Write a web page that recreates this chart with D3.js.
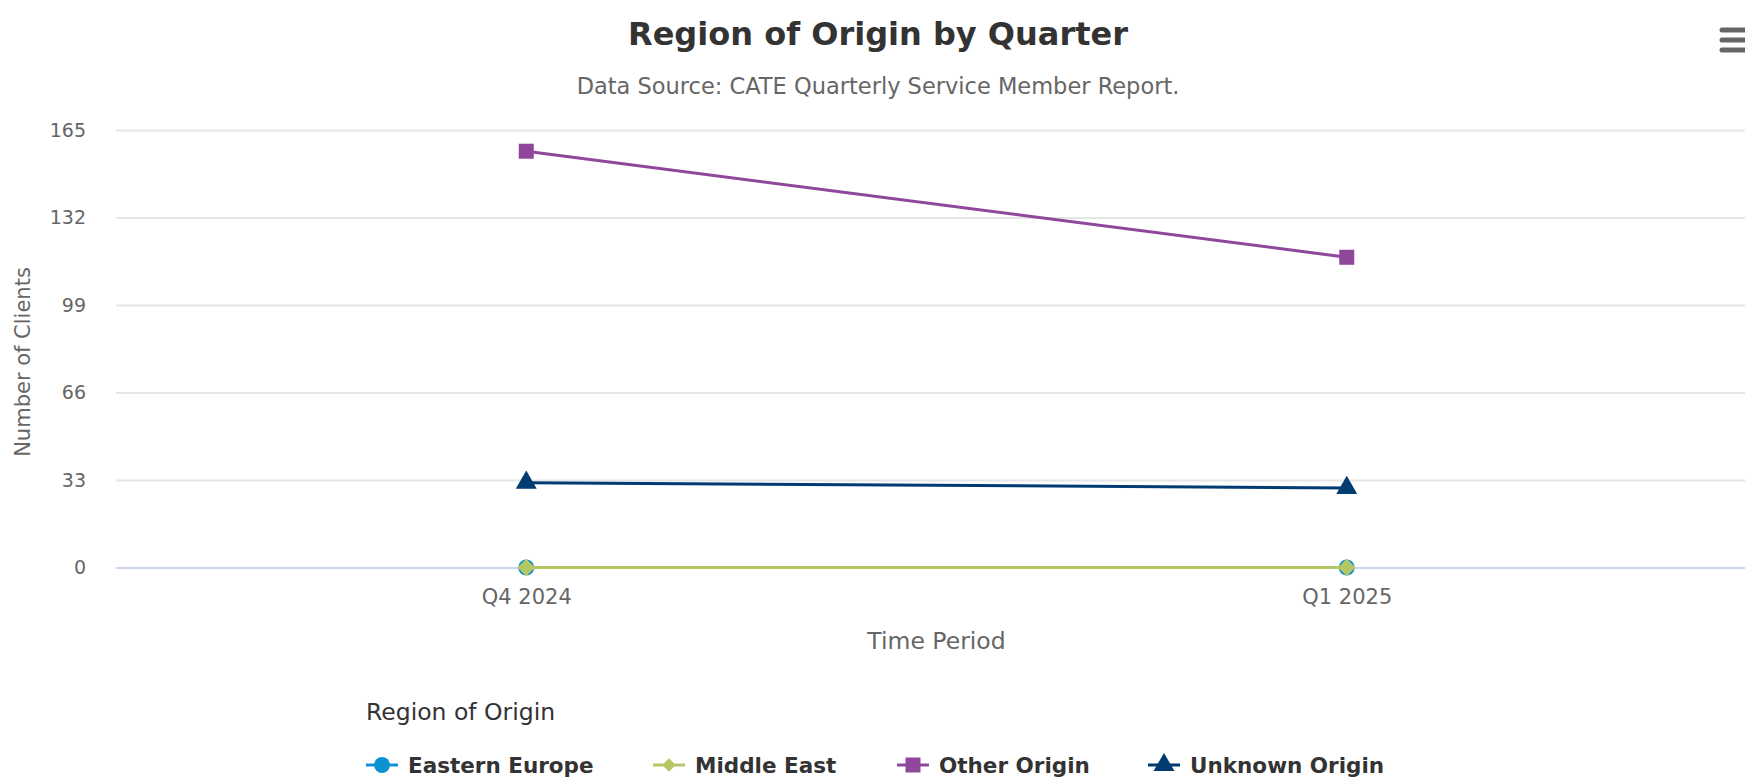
<!DOCTYPE html>
<html>
<head>
<meta charset="utf-8">
<script src="https://cdn.jsdelivr.net/npm/d3@7"></script>
<style>
  body { margin: 0; background: #fff; }
  svg { display: block; font-family: "DejaVu Sans", sans-serif; }
</style>
</head>
<body>
<svg id="chart" width="1745" height="779"></svg>
<script>
// data
const quarters = ["Q4 2024", "Q1 2025"];
const seriesNames = ["Eastern Europe", "Middle East", "Other Origin", "Unknown Origin"];
const easternEurope = [0, 0];
const middleEast = [0, 0];
const otherOrigin = [157, 117];
const unknownOrigin = [32, 30];
const yTicks = [0, 33, 66, 99, 132, 165];

const seriesColours = ["#0d92d1", "#b5c764", "#8e479a", "#003b71"];
// diamond = square turned 45 degrees
const seriesSymbols = [d3.symbolCircle, d3.symbolSquare, d3.symbolSquare, d3.symbolTriangle];
const seriesRotate = [0, 45, 0, 0];
const seriesSizes = [200, 150, 225, 190];
const legendSizes = [200, 90, 225, 190];

const series = [easternEurope, middleEast, otherOrigin, unknownOrigin].map((v, i) => ({
    name: seriesNames[i],
    values: v.map((y, j) => ({ q: quarters[j], y: y }))
}));

const svg = d3.select("#chart");

const MARGIN = { LEFT: 116, RIGHT: 1757, TOP: 130, BOTTOM: 567.5 };

//** SCALES *****************************************
let xScale = d3.scalePoint()
    .domain(quarters)
    .range([MARGIN.LEFT, MARGIN.RIGHT])
    .padding(0.5);

let yScale = d3.scaleLinear()
    .domain([0, 165])
    .range([MARGIN.BOTTOM, MARGIN.TOP]);

//** TITLES *****************************************
svg.append("text")
    .attr("x", 878)
    .attr("y", 45)
    .attr("text-anchor", "middle")
    .attr("font-size", "32px")
    .attr("font-weight", "bold")
    .attr("fill", "#333333")
    .text("Region of Origin by Quarter");

svg.append("text")
    .attr("x", 878)
    .attr("y", 94)
    .attr("text-anchor", "middle")
    .attr("font-size", "22.5px")
    .attr("fill", "#666666")
    .text("Data Source: CATE Quarterly Service Member Report.");

// menu icon
[30, 40, 50].forEach(y => {
    svg.append("line")
        .attr("x1", 1722).attr("x2", 1745)
        .attr("y1", y).attr("y2", y)
        .attr("stroke", "#666666")
        .attr("stroke-width", 5)
        .attr("stroke-linecap", "round");
});

//** AXES *****************************************
let yAxis = d3.axisLeft(yScale)
    .tickValues(yTicks)
    .tickSize(-(MARGIN.RIGHT - MARGIN.LEFT))
    .tickPadding(30);

let yAxisGroup = svg.append("g")
    .attr("transform", "translate(" + MARGIN.LEFT + ",0)")
    .call(yAxis);
yAxisGroup.select(".domain").remove();
yAxisGroup.selectAll(".tick line")
    .attr("stroke", d => d === 0 ? "#ccd6eb" : "#e6e6e6")
    .attr("stroke-width", 2);
yAxisGroup.selectAll(".tick text")
    .attr("font-size", "19px")
    .attr("font-family", "DejaVu Sans, sans-serif")
    .attr("fill", "#666666");

let xAxis = d3.axisBottom(xScale)
    .tickSize(0)
    .tickPadding(22);

let xAxisGroup = svg.append("g")
    .attr("transform", "translate(0," + MARGIN.BOTTOM + ")")
    .call(xAxis);
xAxisGroup.select(".domain").remove();
xAxisGroup.selectAll(".tick text")
    .attr("font-size", "21px")
    .attr("font-family", "DejaVu Sans, sans-serif")
    .attr("fill", "#666666");

svg.append("text")
    .attr("x", (MARGIN.LEFT + MARGIN.RIGHT) / 2)
    .attr("y", 649)
    .attr("text-anchor", "middle")
    .attr("font-size", "23.5px")
    .attr("fill", "#666666")
    .text("Time Period");

svg.append("text")
    .attr("transform", "translate(30,362) rotate(-90)")
    .attr("text-anchor", "middle")
    .attr("font-size", "21px")
    .attr("fill", "#666666")
    .text("Number of Clients");

//** LINES *****************************************
let line = d3.line()
    .x(d => xScale(d.q))
    .y(d => yScale(d.y));

series.forEach((s, i) => {
    let g = svg.append("g").attr("class", "series");
    g.append("path")
        .datum(s.values)
        .attr("d", line)
        .attr("fill", "none")
        .attr("stroke", seriesColours[i])
        .attr("stroke-width", 3);
    g.selectAll("path.marker")
        .data(s.values)
        .enter()
        .append("path")
        .attr("class", "marker")
        .attr("transform", d => "translate(" + xScale(d.q) + "," + yScale(d.y) + ") rotate(" + seriesRotate[i] + ")")
        .attr("d", d3.symbol().type(seriesSymbols[i]).size(seriesSizes[i]))
        .attr("fill", seriesColours[i]);
});

//** LEGEND *****************************************
svg.append("text")
    .attr("x", 366)
    .attr("y", 720)
    .attr("font-size", "23.5px")
    .attr("fill", "#333333")
    .text("Region of Origin");

const legendX = [366, 653, 897, 1148];
const legendY = 765;

let legend = svg.append("g")
    .selectAll("g")
    .data(seriesNames)
    .enter()
    .append("g")
    .attr("transform", (d, i) => "translate(" + legendX[i] + "," + legendY + ")");

legend.append("line")
    .attr("x1", 0).attr("x2", 32)
    .attr("stroke", (d, i) => seriesColours[i])
    .attr("stroke-width", 3);

legend.append("path")
    .attr("transform", (d, i) => "translate(16,0) rotate(" + seriesRotate[i] + ")")
    .attr("d", (d, i) => d3.symbol().type(seriesSymbols[i]).size(legendSizes[i])())
    .attr("fill", (d, i) => seriesColours[i]);

legend.append("text")
    .attr("x", 42)
    .attr("y", 8)
    .attr("font-size", "21.5px")
    .attr("font-weight", "bold")
    .attr("fill", "#333333")
    .text(d => d);
</script>
</body>
</html>
